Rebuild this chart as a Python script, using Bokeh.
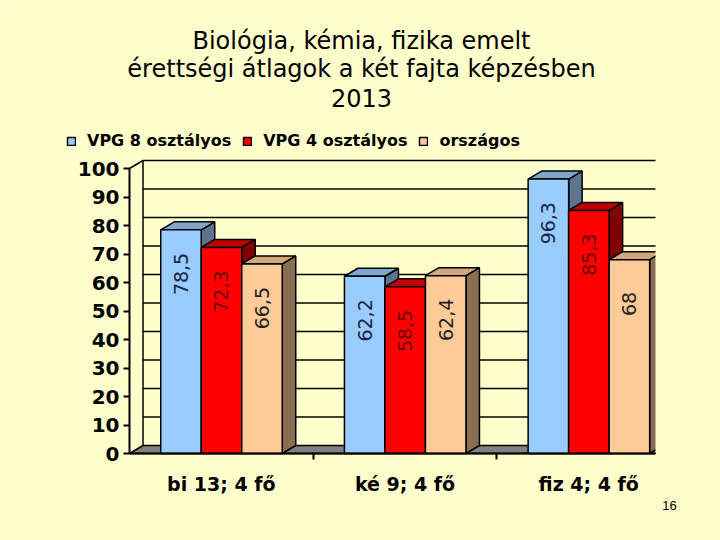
import math
from bokeh.plotting import figure
from bokeh.models import (Range1d, FixedTicker, ColumnDataSource, Legend, LegendItem)
from bokeh.core.properties import value
from bokeh.embed import file_html
from bokeh.resources import INLINE

# ---------------- data ----------------
title_lines = ["Biológia, kémia, fizika emelt",
               "érettségi átlagok a két fajta képzésben",
               "2013"]
categories = ["bi 13; 4 fő", "ké 9; 4 fő", "fiz 4; 4 fő"]
series_names = ["VPG 8 osztályos", "VPG 4 osztályos", "országos"]
vpg8 = [78.5, 62.2, 96.3]
vpg4 = [72.3, 58.5, 85.3]
orszagos = [66.5, 62.4, 68.0]
y_ticks = [0, 10, 20, 30, 40, 50, 60, 70, 80, 90, 100]
page_number = "16"

series_values = [vpg8, vpg4, orszagos]

# ---------------- style / layout ----------------
BG = "#FFFFCC"
front_colors = ["#99CCFF", "#FF0000", "#FFCC99"]
top_colors = ["#7FA6CC", "#C00000", "#D2A77C"]
side_colors = ["#5B7590", "#800000", "#8A6E52"]
label_colors = ["#1A2448", "#700000", "#222222"]

W, H = 720, 540
ORIGIN_PX = (129, 453)    # screen position of (0, 0)
RIGHT_PX = 655            # right edge of the chart area
XPX = 183.7               # px per category unit
YPX = 2.85                # px per value unit
DX = 13.5 / XPX           # depth offset (x)
DY = 8.0 / YPX            # depth offset (y)
BAR_W = 0.2205
GROUP_PAD = 0.17


def sx(px):
    return (px - ORIGIN_PX[0]) / XPX


def sy(py):
    return (ORIGIN_PX[1] - py) / YPX


X_CLIP = sx(RIGHT_PX)

p = figure(width=W, height=H, output_backend="svg", toolbar_location=None,
           x_range=Range1d(sx(0), sx(W)), y_range=Range1d(sy(H), sy(0)),
           min_border=0, background_fill_color=BG, border_fill_color=BG,
           outline_line_color=None)
p.xgrid.visible = False
p.ygrid.visible = False

# ---------------- title ----------------
title_src = ColumnDataSource(dict(x=[sx(361)] * len(title_lines),
                                  y=[sy(40 + 28.5 * k) for k in range(len(title_lines))],
                                  t=title_lines))
p.text(x="x", y="y", text="t", source=title_src, text_align="center",
       text_baseline="middle", text_font=value("DejaVu Sans"),
       text_font_size="24px", text_color="black")

# ---------------- walls / floor ----------------
grid_vals = [t for t in y_ticks if t > 0]
p.multi_line(xs=[[DX, X_CLIP + 1] for _ in grid_vals],
             ys=[[v + DY, v + DY] for v in grid_vals],
             line_color="black", line_width=1.5)
p.line(x=[DX, DX], y=[DY, y_ticks[-1] + DY], line_color="black", line_width=1.5)
p.line(x=[0, DX], y=[y_ticks[-1], y_ticks[-1] + DY], line_color="black", line_width=1.5)
p.patch(x=[0, X_CLIP + 1, X_CLIP + 1 + DX, DX], y=[0, 0, DY, DY],
        fill_color="#808080", line_color="black", line_width=1.5)

# ---------------- 3D bars ----------------
side_xs, side_ys, side_c = [], [], []
top_xs, top_ys, top_c = [], [], []
for i, vals in enumerate(series_values):
    for g, v in enumerate(vals):
        l = g + GROUP_PAD + i * BAR_W
        r = l + BAR_W
        side_xs.append([r, r + DX, r + DX, r])
        side_ys.append([0, DY, v + DY, v])
        side_c.append(side_colors[i])
        top_xs.append([l, r, r + DX, l + DX])
        top_ys.append([v, v, v + DY, v + DY])
        top_c.append(top_colors[i])

p.patches(xs=side_xs, ys=side_ys, fill_color=side_c, line_color="black", line_width=1.5)
p.patches(xs=top_xs, ys=top_ys, fill_color=top_c, line_color="black", line_width=1.5)

front_renderers = []
for i, vals in enumerate(series_values):
    lefts = [g + GROUP_PAD + i * BAR_W for g in range(len(vals))]
    src = ColumnDataSource(dict(left=lefts, right=[x + BAR_W for x in lefts],
                                bottom=[0] * len(vals), top=vals))
    r = p.quad(left="left", right="right", bottom="bottom", top="top", source=src,
               fill_color=front_colors[i], line_color="black", line_width=1.5)
    front_renderers.append(r)

# value labels (rotated)
for i, vals in enumerate(series_values):
    cx = [g + GROUP_PAD + i * BAR_W + BAR_W / 2 for g in range(len(vals))]
    src = ColumnDataSource(dict(x=cx, y=[v - 15.5 for v in vals],
                                t=[("%g" % v).replace(".", ",") for v in vals]))
    p.text(x="x", y="y", text="t", source=src, angle=math.pi / 2,
           text_align="center", text_baseline="middle",
           text_font=value("DejaVu Sans"), text_font_size="19px",
           text_color=label_colors[i])

# mask: the chart area ends at its right edge
p.quad(left=[X_CLIP], right=[sx(W) + 1], bottom=[sy(H) - 1], top=[sy(0) + 1],
       fill_color=BG, line_color=None)

# page number
p.text(x=[sx(669)], y=[sy(505)], text=[page_number], text_align="center",
       text_baseline="middle", text_font=value("Liberation Sans"),
       text_font_size="13px", text_color="black")

# ---------------- axes ----------------
yax = p.yaxis[0]
yax.fixed_location = 0
yax.ticker = FixedTicker(ticks=y_ticks)
yax.bounds = (y_ticks[0], y_ticks[-1])
yax.axis_line_width = 2
yax.major_tick_line_width = 2
yax.major_tick_out = 6
yax.major_tick_in = 0
yax.minor_tick_out = 0
yax.minor_tick_in = 0
yax.major_label_standoff = 4
yax.major_label_text_font = "DejaVu Sans"
yax.major_label_text_font_style = "bold"
yax.major_label_text_font_size = "20px"
yax.major_label_text_color = "black"

centers = [g + 0.5 for g in range(len(categories))]
xax = p.xaxis[0]
xax.fixed_location = 0
xax.ticker = FixedTicker(ticks=centers, minor_ticks=list(range(1, len(categories))))
xax.major_label_overrides = {c: lab for c, lab in zip(centers, categories)}
xax.bounds = (0, X_CLIP)
xax.axis_line_width = 2
xax.major_tick_out = 0
xax.major_tick_in = 0
xax.minor_tick_out = 6
xax.minor_tick_in = 0
xax.minor_tick_line_width = 2
xax.major_label_standoff = 13
xax.major_label_text_font = "DejaVu Sans"
xax.major_label_text_font_style = "bold"
xax.major_label_text_font_size = "19px"
xax.major_label_text_color = "black"

# ---------------- legend ----------------
legend = Legend(items=[LegendItem(label=n, renderers=[r]) for n, r in zip(series_names, front_renderers)],
                orientation="horizontal", location=(66, 390),
                glyph_width=10, glyph_height=10, label_standoff=11, spacing=11,
                padding=0, margin=0, border_line_color=None, background_fill_alpha=0,
                label_text_font="DejaVu Sans", label_text_font_style="bold",
                label_text_font_size="16px", label_text_color="black", label_height=16)
p.add_layout(legend, "center")

open("out.html", "w").write(file_html(p, INLINE))
